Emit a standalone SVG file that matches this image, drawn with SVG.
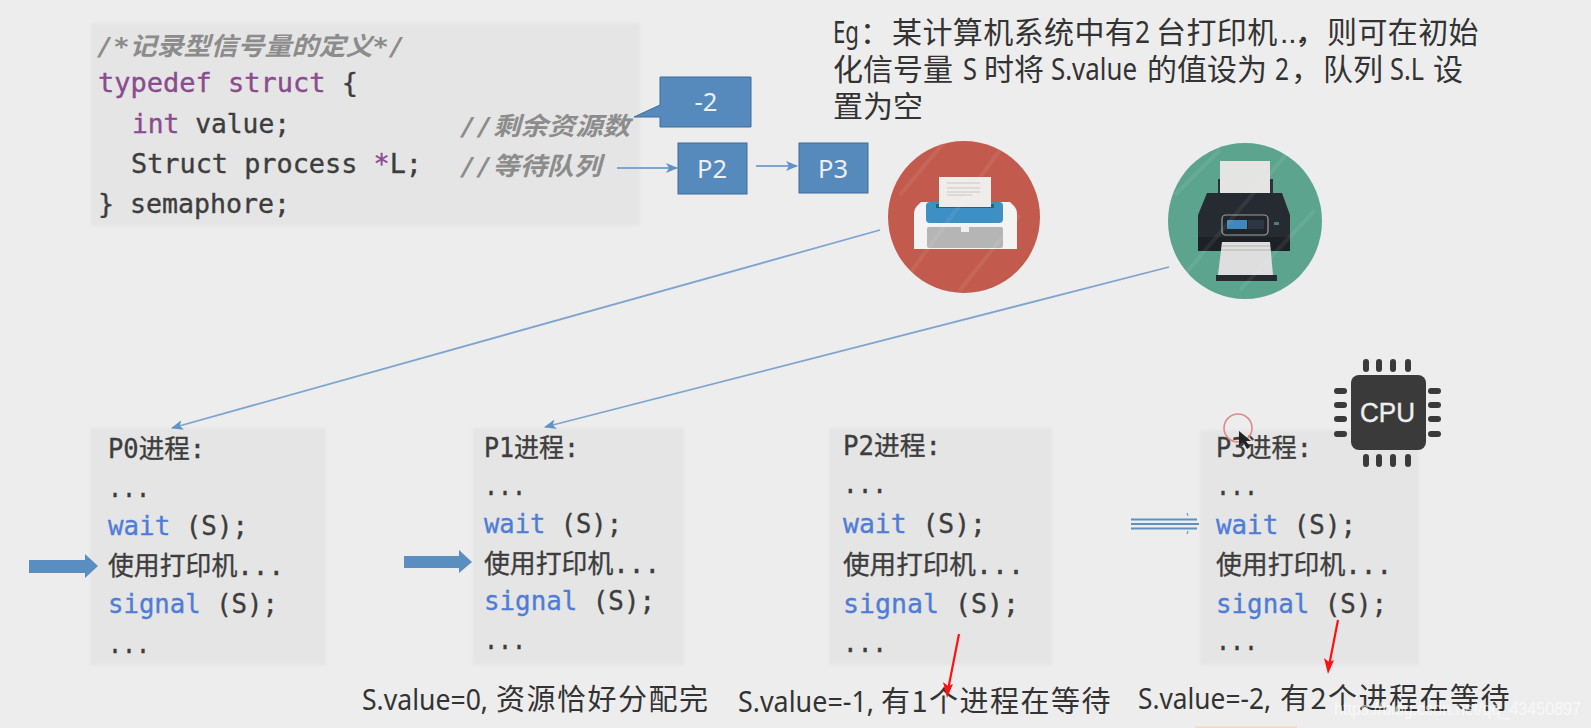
<svg xmlns="http://www.w3.org/2000/svg" width="1591" height="728" viewBox="0 0 1591 728">
<style>
text{font-family:"DejaVu Sans Mono","Noto Sans CJK SC",monospace;fill:#3d3d3d}
.code,.pt{font-size:26px;stroke:#3d3d3d;stroke-width:.35}
.kw{fill:#8a4b8f;stroke:#8a4b8f}
.fn{fill:#4f7dd6;stroke:#4f7dd6}
.cm{fill:#8c8c8c;font-style:italic;font-weight:bold;font-size:25px}
.cn{font-family:"Noto Sans CJK SC","Noto Sans",sans-serif;font-size:29px;fill:#333}
.big{font-size:30px}
.lat{font-family:"Noto Sans",sans-serif}
.lb{font-family:"Noto Sans",sans-serif;fill:#eaf0f6;font-size:26px;text-anchor:middle}
.box{fill:#5689bc;stroke:#3e6c9a;stroke-width:1}
.panel{fill:#e5e5e5;filter:url(#soft)}
.conn{fill:none;stroke:#7fa5cf;stroke-width:1.8}
.pin{fill:#3a3a3a}
.gloss{stroke:#fff;stroke-opacity:.07;stroke-width:4;fill:none}
</style>
<defs>
<filter id="soft" x="-5%" y="-5%" width="110%" height="110%"><feGaussianBlur stdDeviation="1.5"/></filter>
<marker id="blue" markerWidth="12" markerHeight="10" refX="11" refY="5" orient="auto" markerUnits="userSpaceOnUse"><path d="M0 0L12 5L0 10L3 5Z" fill="#5f93c8"/></marker>
</defs>
<rect width="1591" height="728" fill="#ededed"/>

<g id="code-panel">
<rect class="panel" x="91" y="23" width="549" height="203"/>
<text class="cm" x="97" y="55" textLength="308" lengthAdjust="spacingAndGlyphs">/*记录型信号量的定义*/</text>
<text class="code" x="98" y="92" textLength="260" lengthAdjust="spacingAndGlyphs"><tspan class="kw">typedef struct</tspan> {</text>
<text class="code" x="132" y="133" textLength="158" lengthAdjust="spacingAndGlyphs"><tspan class="kw">int</tspan> value;</text>
<text class="code" x="131" y="173" textLength="291" lengthAdjust="spacingAndGlyphs">Struct process <tspan class="kw">*</tspan>L;</text>
<text class="code" x="98" y="213" textLength="192" lengthAdjust="spacingAndGlyphs">} semaphore;</text>
<text class="cm" x="460" y="135" textLength="170" lengthAdjust="spacingAndGlyphs">//剩余资源数</text>
<text class="cm" x="460" y="175" textLength="141" lengthAdjust="spacingAndGlyphs">//等待队列</text>
</g>

<g id="node-value">
<path class="box" d="M660 77H751V127H660V117L634 117L660 105Z"/>
<text class="lb" x="706" y="111" textLength="23" lengthAdjust="spacingAndGlyphs">-2</text>
</g>
<g id="node-p2"><rect class="box" x="678" y="143" width="69" height="51"/><text class="lb" x="712" y="178" textLength="30" lengthAdjust="spacingAndGlyphs">P2</text></g>
<g id="node-p3"><rect class="box" x="799" y="143" width="69" height="50"/><text class="lb" x="833" y="178" textLength="30" lengthAdjust="spacingAndGlyphs">P3</text></g>

<g id="note">
<text class="cn big" y="43"><tspan class="lat" x="833" textLength="26" lengthAdjust="spacingAndGlyphs">Eg</tspan><tspan x="860">：</tspan><tspan x="892" letter-spacing=".4">某计算机系统中有</tspan><tspan class="lat" x="1135" textLength="15" lengthAdjust="spacingAndGlyphs">2</tspan><tspan x="1156" letter-spacing=".4">台打印机</tspan><tspan style="font-family:'Liberation Sans',sans-serif" x="1280">...</tspan><tspan x="1296">，</tspan><tspan x="1327" letter-spacing=".4">则可在初始</tspan></text>
<text class="cn big" y="80"><tspan x="833">化信号量</tspan><tspan class="lat" x="963" textLength="14" lengthAdjust="spacingAndGlyphs">S</tspan><tspan x="984">时将</tspan><tspan class="lat" x="1051" textLength="86" lengthAdjust="spacingAndGlyphs">S.value</tspan><tspan x="1147">的值设为</tspan><tspan class="lat" x="1275" textLength="14" lengthAdjust="spacingAndGlyphs">2</tspan><tspan x="1291">，</tspan><tspan x="1323">队列</tspan><tspan class="lat" x="1390" textLength="34" lengthAdjust="spacingAndGlyphs">S.L</tspan><tspan x="1433">设</tspan></text>
<text class="cn big" x="833" y="117">置为空</text>
</g>

<g id="printer-red">
<ellipse cx="964" cy="217" rx="76" ry="76" fill="#c25b4d"/>
<path d="M914 249V214Q914 209 917 206L921 202H1010L1014 206Q1017 209 1017 214V249Z" fill="#f3f3f3"/>
<rect x="926" y="202" width="77" height="21" rx="4" fill="#3e8fc4"/>
<rect x="936" y="204" width="58" height="4" fill="#2a5f85"/>
<rect x="927" y="227" width="76" height="21" rx="2" fill="#b5b5b5"/>
<rect x="961" y="226" width="8" height="6" fill="#f0f0f0"/>
<rect x="939" y="177" width="52" height="30" fill="#efedea"/>
<path d="M947 183H980M947 188H980M947 192H980M947 195H972" stroke="#c9c6c2" stroke-width="1.1"/>
<path class="gloss" d="M900 195L946 140M905 280L1000 150M960 290L1020 215"/>
</g>

<g id="printer-green">
<ellipse cx="1245" cy="221" rx="77" ry="78" fill="#5ca48e"/>
<rect x="1218" y="179" width="55" height="20" fill="#2c3238"/>
<rect x="1220" y="161" width="50" height="35" fill="#e4e4e2"/>
<path d="M1207 193H1282L1290 215V251H1198V215Z" fill="#262b31"/>
<rect x="1198" y="237" width="92" height="14" fill="#1d2126"/>
<rect x="1222" y="215" width="46" height="20" rx="4" fill="#20252a" stroke="#9aa0a6" stroke-width="1.2"/>
<rect x="1227" y="220" width="20" height="9" fill="#3f88bd"/>
<rect x="1248" y="220" width="16" height="9" fill="#2e3640"/>
<rect x="1274" y="222" width="5" height="3" fill="#4a7c88"/>
<path d="M1222 242H1270L1273 275H1218Z" fill="#dedede"/>
<path d="M1222 246H1270M1221 250H1271" stroke="#b3b3b1" stroke-width="1"/>
<rect x="1216" y="275" width="61" height="6" fill="#262b31"/>
<path class="gloss" d="M1175 195L1220 150M1180 280L1290 150M1240 290L1315 210"/>
</g>

<g id="proc-p0">
<rect class="panel" x="90" y="428" width="236" height="237"/>
<text class="pt" x="108" y="458" textLength="97" lengthAdjust="spacingAndGlyphs">P0进程:</text>
<text class="pt" x="108" y="497" textLength="42" lengthAdjust="spacingAndGlyphs">...</text>
<text class="pt" x="108" y="535" textLength="140" lengthAdjust="spacingAndGlyphs"><tspan class="fn">wait</tspan> (S);</text>
<text class="pt" x="108" y="575" textLength="176" lengthAdjust="spacingAndGlyphs">使用打印机...</text>
<text class="pt" x="108" y="613" textLength="170" lengthAdjust="spacingAndGlyphs"><tspan class="fn">signal</tspan> (S);</text>
<text class="pt" x="108" y="653" textLength="42" lengthAdjust="spacingAndGlyphs">...</text>
</g>
<g id="proc-p1">
<rect class="panel" x="473" y="428" width="211" height="237"/>
<text class="pt" x="484" y="457" textLength="95" lengthAdjust="spacingAndGlyphs">P1进程:</text>
<text class="pt" x="484" y="495" textLength="42" lengthAdjust="spacingAndGlyphs">...</text>
<text class="pt" x="484" y="533" textLength="138" lengthAdjust="spacingAndGlyphs"><tspan class="fn">wait</tspan> (S);</text>
<text class="pt" x="484" y="573" textLength="176" lengthAdjust="spacingAndGlyphs">使用打印机...</text>
<text class="pt" x="484" y="610" textLength="171" lengthAdjust="spacingAndGlyphs"><tspan class="fn">signal</tspan> (S);</text>
<text class="pt" x="484" y="649" textLength="42" lengthAdjust="spacingAndGlyphs">...</text>
</g>
<g id="proc-p2">
<rect class="panel" x="829" y="428" width="223" height="237"/>
<text class="pt" x="843" y="455" textLength="98" lengthAdjust="spacingAndGlyphs">P2进程:</text>
<text class="pt" x="843" y="493" textLength="44" lengthAdjust="spacingAndGlyphs">...</text>
<text class="pt" x="843" y="533" textLength="143" lengthAdjust="spacingAndGlyphs"><tspan class="fn">wait</tspan> (S);</text>
<text class="pt" x="843" y="574" textLength="181" lengthAdjust="spacingAndGlyphs">使用打印机...</text>
<text class="pt" x="843" y="613" textLength="176" lengthAdjust="spacingAndGlyphs"><tspan class="fn">signal</tspan> (S);</text>
<text class="pt" x="843" y="652" textLength="44" lengthAdjust="spacingAndGlyphs">...</text>
</g>
<g id="proc-p3">
<rect class="panel" x="1200" y="430" width="219" height="235"/>
<text class="pt" x="1216" y="457" textLength="96" lengthAdjust="spacingAndGlyphs">P3进程:</text>
<text class="pt" x="1216" y="495" textLength="42" lengthAdjust="spacingAndGlyphs">...</text>
<text class="pt" x="1216" y="534" textLength="140" lengthAdjust="spacingAndGlyphs"><tspan class="fn">wait</tspan> (S);</text>
<text class="pt" x="1216" y="574" textLength="176" lengthAdjust="spacingAndGlyphs">使用打印机...</text>
<text class="pt" x="1216" y="613" textLength="171" lengthAdjust="spacingAndGlyphs"><tspan class="fn">signal</tspan> (S);</text>
<text class="pt" x="1216" y="650" textLength="42" lengthAdjust="spacingAndGlyphs">...</text>
</g>

<g id="cpu">
<rect x="1351" y="375" width="75" height="75" rx="8" fill="#3a3a3a"/>
<g class="pin">
<rect x="1363" y="359" width="6" height="13" rx="3"/><rect x="1376" y="359" width="6" height="13" rx="3"/><rect x="1390" y="359" width="6" height="13" rx="3"/><rect x="1405" y="359" width="6" height="13" rx="3"/>
<rect x="1363" y="454" width="6" height="13" rx="3"/><rect x="1376" y="454" width="6" height="13" rx="3"/><rect x="1390" y="454" width="6" height="13" rx="3"/><rect x="1405" y="454" width="6" height="13" rx="3"/>
<rect x="1334" y="388" width="13" height="6" rx="3"/><rect x="1334" y="402" width="13" height="6" rx="3"/><rect x="1334" y="416" width="13" height="6" rx="3"/><rect x="1334" y="431" width="13" height="6" rx="3"/>
<rect x="1428" y="388" width="13" height="6" rx="3"/><rect x="1428" y="402" width="13" height="6" rx="3"/><rect x="1428" y="416" width="13" height="6" rx="3"/><rect x="1428" y="431" width="13" height="6" rx="3"/>
</g>
<text x="1360" y="422" font-size="27" textLength="55" lengthAdjust="spacingAndGlyphs" style="font-family:'Liberation Sans',sans-serif;fill:#eee;stroke:#eee;stroke-width:.4">CPU</text>
</g>

<g id="labels">
<text class="cn" y="710"><tspan class="lat" x="362" textLength="126" lengthAdjust="spacingAndGlyphs">S.value=0,</tspan><tspan x="496" letter-spacing="1.5">资源恰好分配完</tspan></text>
<text class="cn" y="712"><tspan class="lat" x="738" textLength="136" lengthAdjust="spacingAndGlyphs">S.value=-1,</tspan><tspan x="881" letter-spacing="1.5">有1个进程在等待</tspan></text>
<text class="cn" y="709"><tspan class="lat" x="1138" textLength="133" lengthAdjust="spacingAndGlyphs">S.value=-2,</tspan><tspan x="1280" letter-spacing="1.5">有2个进程在等待</tspan></text>
</g>

<g id="connectors">
<path class="conn" d="M617 168H677" marker-end="url(#blue)"/>
<path class="conn" d="M756 166H797" marker-end="url(#blue)"/>
<path class="conn" d="M880 230L172 428" marker-end="url(#blue)"/>
<path class="conn" d="M1169 267L545 427" marker-end="url(#blue)"/>
<path fill="#5a8dc0" d="M29 560H85V554L98 566L85 578V573H29Z"/>
<path fill="#5a8dc0" d="M404 556H459V550L472 562L459 573V568H404Z"/>
<g fill="none" stroke="#5f90c4" stroke-width="2"><path d="M1131 519.5H1197M1131 524H1199M1131 528.5H1197"/></g>
<path d="M1187 513L1188 516M1187 534L1188 531" fill="none" stroke="#6f9ccb" stroke-width="1.2"/>
<path d="M959 634L948 690" stroke="#f11" stroke-width="2.2" fill="none"/><path d="M947 698L943 682L948 686L953 684Z" fill="#f11"/>
<path d="M1338 620L1329 666" stroke="#f11" stroke-width="2.2" fill="none"/><path d="M1328 674L1324 658L1329 662L1334 660Z" fill="#f11"/>
</g>

<g id="pointer">
<circle cx="1238" cy="428" r="14" fill="none" stroke="#e08a8a" stroke-width="1.6"/>
<path d="M1239 431V446L1243 442L1247 449L1250 447L1246 441H1251Z" fill="#222"/>
</g>

<g id="watermark">
<text x="1334" y="715" textLength="247" lengthAdjust="spacingAndGlyphs" font-size="18" style="font-family:'Liberation Sans',sans-serif;fill:#fff;fill-opacity:.62">https://blog.csdn.net/qq_43450897</text>
</g>
<rect x="1195" y="726.5" width="102" height="1.5" fill="#f5d5c8"/>
</svg>
